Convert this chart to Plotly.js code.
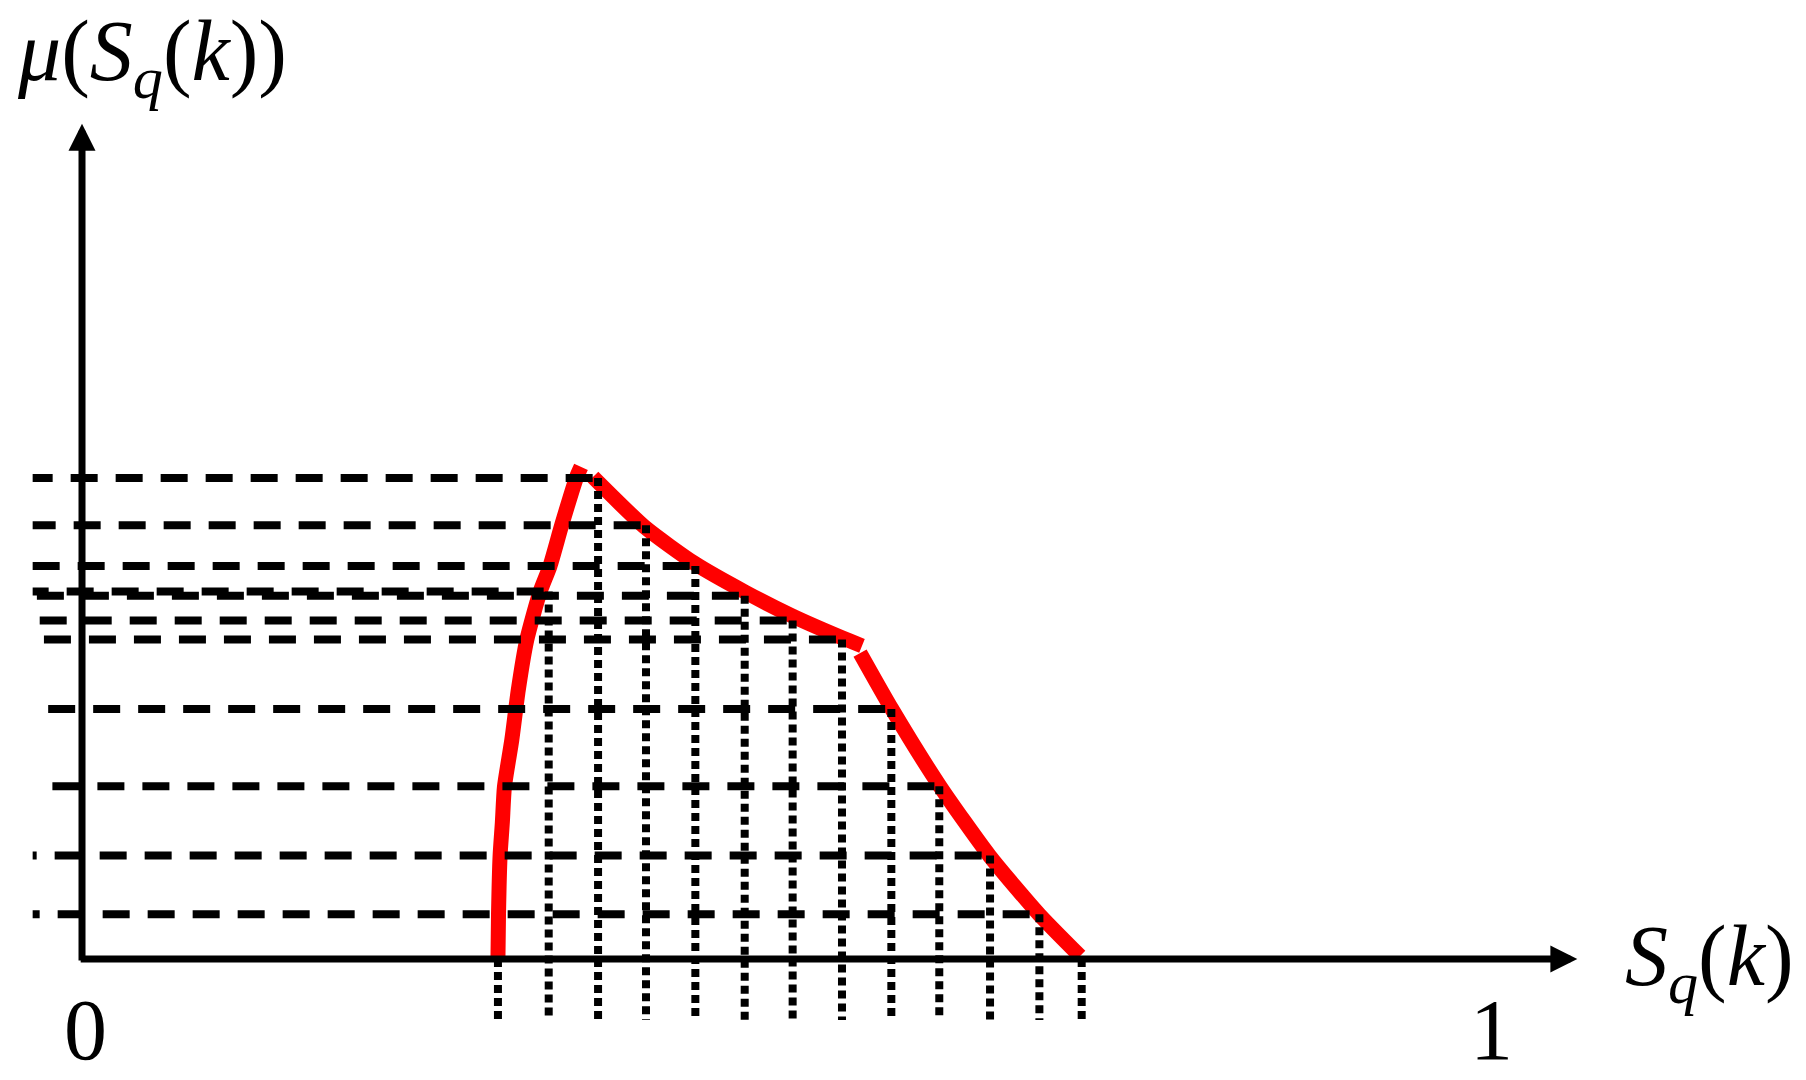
<!DOCTYPE html>
<html>
<head>
<meta charset="utf-8">
<script src="https://cdn.plot.ly/plotly-3.0.1.min.js"></script>
<style>
  html, body { margin: 0; padding: 0; background: #fff; }
  #graphDiv { width: 1806px; height: 1080px; }
</style>
</head>
<body>
<div id="graphDiv"></div>
<script>
// sampled S_q(k) values and the membership read at each one
var sampleX  = [0.295, 0.331, 0.366, 0.400, 0.435, 0.470, 0.504, 0.539, 0.574, 0.608, 0.644, 0.679, 0.709];
var sampleMu = [0, 0.764, 1.000, 0.902, 0.817, 0.755, 0.704, 0.664, 0.520, 0.359, 0.215, 0.093, 0];
// left end of each dashed guide (null = no guide, value is zero)
var guideStart = [null, -0.035, -0.035, -0.035, -0.035, -0.032, -0.030, -0.027, -0.024, -0.021, -0.035, -0.035, null];
// length of the first dash on each guide, px
var guideLead = [0, 16, 20, 23, 27, 27, 27, 27, 27, 27, 4, 7, 0];
var dropBottom = -0.127;

// red membership curve, drawn as three strokes
var riseX  = [0.2950, 0.2954, 0.2965, 0.2981, 0.2996, 0.3048, 0.3094, 0.3154, 0.3248, 0.3319, 0.3402, 0.3508, 0.3539];
var riseMu = [0, 0.094, 0.214, 0.283, 0.358, 0.455, 0.559, 0.663, 0.763, 0.817, 0.902, 1.002, 1.023];
var slopeX  = [0.3624, 0.3995, 0.4348, 0.4702, 0.5038, 0.5388, 0.5532];
var slopeMu = [1.002, 0.897, 0.822, 0.763, 0.713, 0.668, 0.651];
var fallX  = [0.5518, 0.5743, 0.6085, 0.6435, 0.6787, 0.7078];
var fallMu = [0.636, 0.520, 0.359, 0.215, 0.093, 0.006];

var xTip = 1.0605;
var yTip = 1.7364;

var serif = "'Liberation Serif', 'Times New Roman', Times, serif";
var red = { color: '#ff0000', width: 15, shape: 'spline', smoothing: 0.6 };

var data = [
  { x: riseX, y: riseMu, mode: 'lines', line: red },
  { x: slopeX, y: slopeMu, mode: 'lines', line: red },
  { x: fallX, y: fallMu, mode: 'lines', line: red }
];

function dashList(lead) {
  var s = lead + 'px,18px';
  for (var k = 0; k < 24; k++) s += ',27px,18px';
  return s;
}

// dashed horizontal guides
for (var i = 0; i < sampleX.length; i++) {
  if (guideStart[i] === null) continue;
  data.push({
    x: [guideStart[i], sampleX[i]], y: [sampleMu[i], sampleMu[i]],
    mode: 'lines', line: { color: '#000', width: 8, dash: dashList(guideLead[i]) }
  });
}
// dotted vertical drops
for (var j = 0; j < sampleX.length; j++) {
  data.push({
    x: [sampleX[j], sampleX[j]], y: [sampleMu[j], dropBottom],
    mode: 'lines', line: { color: '#000', width: 8, dash: '8px,5px' }
  });
}

var axisArrow = {
  text: '', showarrow: true, arrowhead: 2, arrowsize: 0.77, arrowwidth: 7,
  arrowcolor: '#000', axref: 'x', ayref: 'y', xref: 'x', yref: 'y', standoff: 0
};

var layout = {
  width: 1806, height: 1080,
  margin: { l: 0, r: 0, t: 0, b: 0, pad: 0 },
  paper_bgcolor: '#fff', plot_bgcolor: '#fff',
  showlegend: false,
  xaxis: { range: [-0.05816, 1.22270], visible: false, fixedrange: true },
  yaxis: { range: [-0.25156, 1.99376], visible: false, fixedrange: true },
  font: { family: serif, size: 86, color: '#000' },
  annotations: [
    Object.assign({}, axisArrow, { x: xTip, y: 0, ax: -0.002, ay: 0 }),
    Object.assign({}, axisArrow, { x: 0, y: yTip, ax: 0, ay: -0.006 }),
    { xref: 'paper', yref: 'paper', x: 0.0083, y: 0.9475, xanchor: 'left', yanchor: 'middle',
      showarrow: false, text: '<i>μ</i>(<i>S</i><sub><i>q</i></sub>(<i>k</i>))' },
    { xref: 'paper', yref: 'paper', x: 0.8987, y: 0.1095, xanchor: 'left', yanchor: 'middle',
      showarrow: false, text: '<i>S</i><sub><i>q</i></sub>(<i>k</i>)' },
    { xref: 'paper', yref: 'paper', x: 0.0476, y: 0.046, xanchor: 'center', yanchor: 'middle',
      showarrow: false, text: '0' },
    { xref: 'paper', yref: 'paper', x: 0.8259, y: 0.046, xanchor: 'center', yanchor: 'middle',
      showarrow: false, text: '1' }
  ]
};

Plotly.newPlot('graphDiv', data, layout, { staticPlot: true, displayModeBar: false });
</script>
</body>
</html>
